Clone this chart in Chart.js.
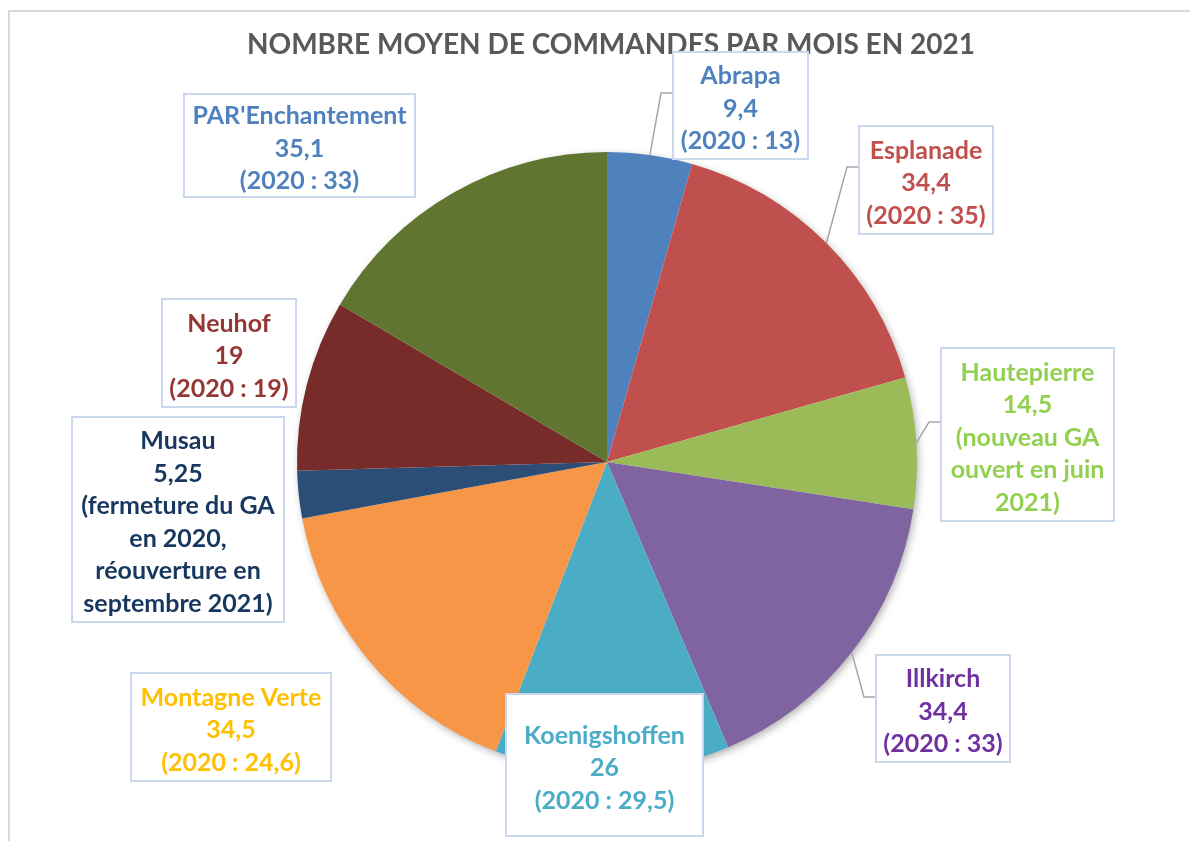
<!DOCTYPE html>
<html lang="fr">
<head>
<meta charset="UTF-8">
<title>Nombre moyen de commandes par mois en 2021</title>
<style>
  html, body { margin: 0; padding: 0; background: #fff; }
  #wrap { position: relative; width: 1190px; height: 841px; overflow: hidden; }
</style>
</head>
<body>
<div id="wrap"><canvas id="pieChart" width="1190" height="841"></canvas></div>
<script src="https://cdn.jsdelivr.net/npm/chart.js"></script>
<script>
// data
const sites = ['Abrapa', 'Esplanade', 'Hautepierre', 'Illkirch', 'Koenigshoffen',
               'Montagne Verte', 'Musau', 'Neuhof', "PAR'Enchantement"];
const values2021 = [9.4, 34.4, 14.5, 34.4, 26, 34.5, 5.25, 19, 35.1];
const notes2020 = [
  ['(2020 : 13)'],
  ['(2020 : 35)'],
  ['(nouveau GA', 'ouvert en juin', '2021)'],
  ['(2020 : 33)'],
  ['(2020 : 29,5)'],
  ['(2020 : 24,6)'],
  ['(fermeture du GA', 'en 2020,', 'réouverture en', 'septembre 2021)'],
  ['(2020 : 19)'],
  ['(2020 : 33)']
];
const sliceColors = ['#4F81BD', '#C0504D', '#9BBB59', '#8064A2', '#4BACC6',
                     '#F79646', '#2C4D75', '#772C2A', '#5F7530'];
const labelColors = ['#4F81BD', '#C0504D', '#92D050', '#7030A0', '#4BACC6',
                     '#FFC000', '#17375E', '#953735', '#4F81BD'];

// callout boxes: x, y, w, h, and the y of the leader line (if any)
const boxes = [
  {x: 673, y: 52,  w: 135, h: 107, lead: 93},
  {x: 859, y: 126, w: 134, h: 108, lead: 167},
  {x: 941, y: 348, w: 173, h: 173, lead: 422},
  {x: 876, y: 655, w: 134, h: 107, lead: 697},
  {x: 506, y: 694, w: 197, h: 142},
  {x: 131, y: 673, w: 200, h: 108},
  {x: 72,  y: 417, w: 212, h: 205},
  {x: 162, y: 299, w: 134, h: 108},
  {x: 184, y: 94,  w: 231, h: 103}
];

const fmt = v => String(v).replace('.', ',');

const decorPlugin = {
  id: 'decor',
  beforeDraw(chart) {
    const ctx = chart.ctx;
    ctx.save();
    ctx.strokeStyle = '#d9d9d9';
    ctx.lineWidth = 2;
    ctx.beginPath();
    ctx.moveTo(9, 841);
    ctx.lineTo(9, 11);
    ctx.lineTo(1190, 11);
    ctx.stroke();

    ctx.fillStyle = '#595959';
    ctx.font = 'bold 28px Lato';
    ctx.textAlign = 'center';
    ctx.textBaseline = 'middle';
    ctx.fillText('NOMBRE MOYEN DE COMMANDES PAR MOIS EN 2021', 611, 45);
    ctx.restore();
  },
  beforeDatasetsDraw(chart) {
    const arc = chart.getDatasetMeta(0).data[0];
    if (!arc) return;
    const ctx = chart.ctx;
    ctx.save();
    ctx.shadowColor = 'rgba(0,0,0,0.35)';
    ctx.shadowBlur = 9;
    ctx.shadowOffsetX = 2;
    ctx.shadowOffsetY = 3;
    ctx.fillStyle = '#ffffff';
    ctx.beginPath();
    ctx.arc(arc.x, arc.y, arc.outerRadius - 1, 0, Math.PI * 2);
    ctx.fill();
    ctx.restore();
  },
  afterDatasetsDraw(chart) {
    const ctx = chart.ctx;
    const meta = chart.getDatasetMeta(0);
    ctx.save();
    meta.data.forEach((arc, i) => {
      const b = boxes[i];
      if (b.lead !== undefined) {
        const mid = (arc.startAngle + arc.endAngle) / 2;
        const px = arc.x + Math.cos(mid) * arc.outerRadius;
        const py = arc.y + Math.sin(mid) * arc.outerRadius;
        ctx.strokeStyle = '#a6a6a6';
        ctx.lineWidth = 1.5;
        ctx.beginPath();
        ctx.moveTo(px, py);
        ctx.lineTo(b.x - 12, b.lead);
        ctx.lineTo(b.x, b.lead);
        ctx.stroke();
      }
      ctx.fillStyle = '#ffffff';
      ctx.fillRect(b.x, b.y, b.w, b.h);
      ctx.strokeStyle = '#c9d8ec';
      ctx.lineWidth = 2;
      ctx.strokeRect(b.x, b.y, b.w, b.h);

      const lines = [sites[i], fmt(values2021[i])].concat(notes2020[i]);
      const lh = 32.5;
      const cx = b.x + b.w / 2;
      const top = b.y + b.h / 2 + 3 - (lines.length - 1) * lh / 2;
      ctx.fillStyle = labelColors[i];
      ctx.font = 'bold 25px Lato';
      ctx.textAlign = 'center';
      ctx.textBaseline = 'middle';
      lines.forEach((t, k) => ctx.fillText(t, cx, top + k * lh));
    });
    ctx.restore();
  }
};

new Chart(document.getElementById('pieChart'), {
  type: 'pie',
  data: {
    labels: sites,
    datasets: [{
      data: values2021,
      backgroundColor: sliceColors,
      borderWidth: 0
    }]
  },
  options: {
    responsive: false,
    animation: false,
    devicePixelRatio: 1,
    layout: { padding: { left: 297, right: 273, top: 152, bottom: 69 } },
    plugins: {
      legend: { display: false },
      tooltip: { enabled: false }
    }
  },
  plugins: [decorPlugin]
});
</script>
</body>
</html>
